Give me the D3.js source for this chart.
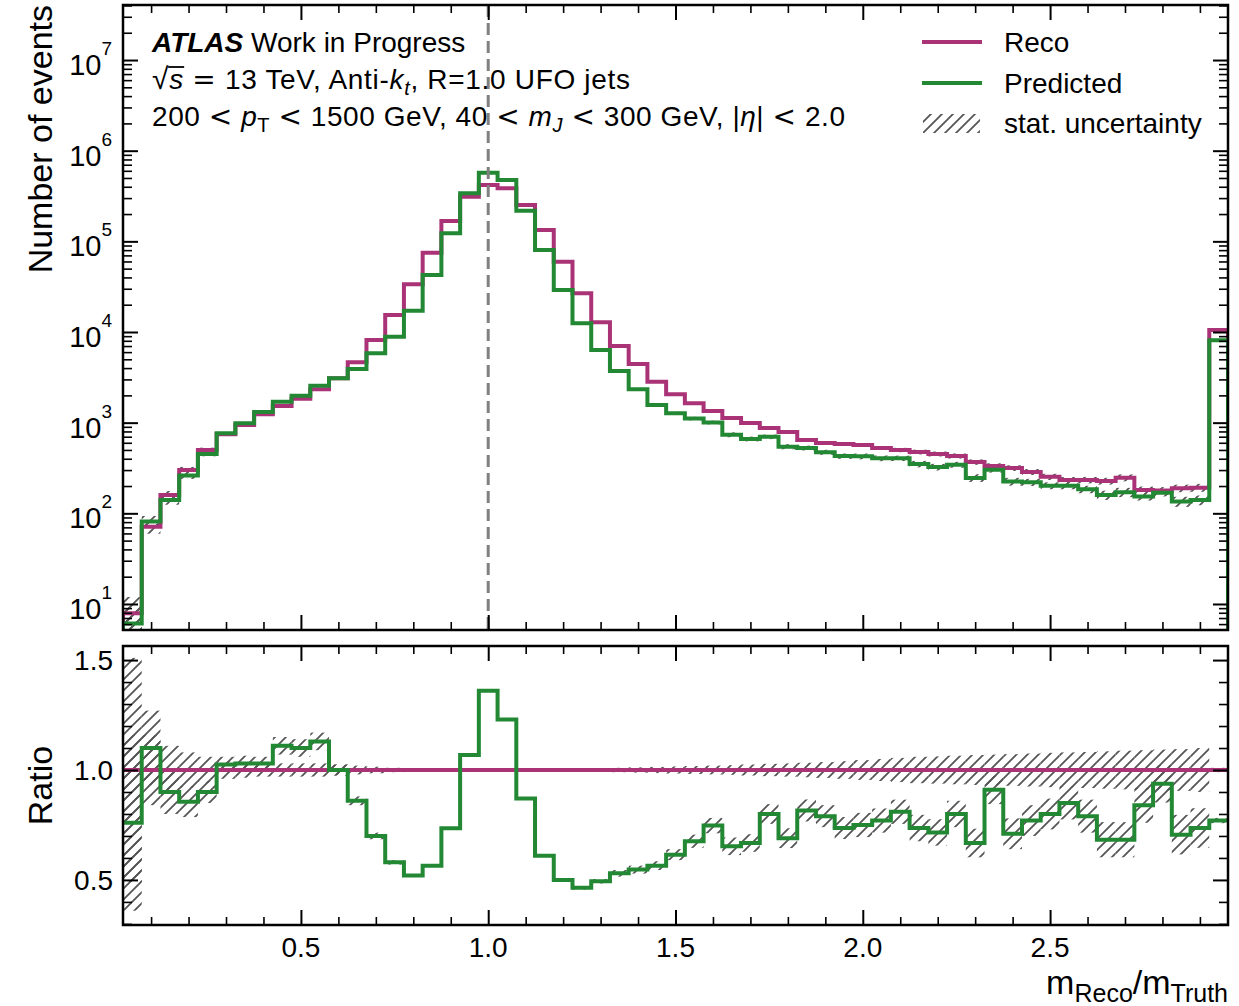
<!DOCTYPE html>
<html>
<head>
<meta charset="utf-8">
<script src="https://cdn.jsdelivr.net/npm/d3@7"></script>
<style>
body { margin: 0; background: #fff; }
svg text { font-family: "Liberation Sans", Arial, Helvetica, sans-serif; fill: #000; }
svg tspan.rel { font-family: "DejaVu Sans", sans-serif; }
</style>
</head>
<body>
<svg id="svg"></svg>
<script>
const W = 1239, H = 1006;

// bins: 0.025 .. 2.975, width 0.05 (last bin holds the overflow)
const binLo = 0.025, binW = 0.05;

const reco = [7.9, 71, 159, 301, 500, 743, 942, 1236, 1528, 1841,
  2334, 3090, 4634, 8166, 15400, 33600, 75000, 167500, 310000, 418000,
  384000, 252000, 133000, 59700, 26700, 12800, 7010, 4440, 2830, 2055,
  1640, 1345, 1127, 991, 873, 789, 644, 597, 582, 567,
  526, 500, 475, 452, 430, 368, 333, 316, 286, 253,
  233, 233, 227, 247, 181, 178, 189, 192, 10500];

const pred = [6.1, 81, 140, 261, 451, 762, 985, 1312, 1706, 1986,
  2558, 3090, 3908, 5824, 8890, 17200, 42500, 122500, 339000, 571000,
  475000, 218000, 80200, 29000, 12500, 6340, 3720, 2335, 1567, 1268,
  1109, 1005, 736, 662, 698, 544, 526, 472, 428, 425,
  405, 405, 350, 324, 344, 246, 303, 224, 220, 202,
  202, 184, 159, 171, 153, 169, 135, 140, 8100];

const ratioPred = [0.76, 1.10, 0.90, 0.856, 0.90, 1.025, 1.03, 1.03, 1.11, 1.10,
  1.13, 1.00, 0.86, 0.70, 0.58, 0.52, 0.565, 0.735, 1.068, 1.36,
  1.23, 0.87, 0.61, 0.50, 0.464, 0.494, 0.53, 0.547, 0.565, 0.615,
  0.676, 0.747, 0.653, 0.668, 0.80, 0.69, 0.816, 0.79, 0.736, 0.75,
  0.77, 0.81, 0.736, 0.716, 0.80, 0.668, 0.91, 0.71, 0.77, 0.80,
  0.85, 0.79, 0.683, 0.683, 0.84, 0.937, 0.706, 0.736, 0.77];

// stat. uncertainty half widths, in ratio units
const errReco = [0.51, 0.16, 0.11, 0.08, 0.06, 0.04, 0.035, 0.03, 0.03, 0.03,
  0.03, 0.025, 0.02, 0.015, 0.01, 0.005, 0.005, 0.005, 0.005, 0.005,
  0.005, 0.005, 0.005, 0.005, 0.005, 0.008, 0.01, 0.012, 0.014, 0.016,
  0.018, 0.02, 0.022, 0.025, 0.028, 0.03, 0.033, 0.036, 0.04, 0.045,
  0.05, 0.055, 0.06, 0.062, 0.065, 0.068, 0.07, 0.072, 0.075, 0.078,
  0.08, 0.082, 0.085, 0.088, 0.09, 0.093, 0.095, 0.1, 0.01];

const errPred = [0.40, 0.17, 0.10, 0.07, 0.05, 0.035, 0.035, 0.03, 0.04, 0.04,
  0.04, 0.025, 0.02, 0.015, 0.01, 0.005, 0.005, 0.005, 0.005, 0.005,
  0.005, 0.005, 0.005, 0.005, 0.008, 0.01, 0.015, 0.018, 0.02, 0.025,
  0.03, 0.035, 0.04, 0.04, 0.045, 0.045, 0.05, 0.05, 0.05, 0.055,
  0.055, 0.055, 0.06, 0.06, 0.06, 0.065, 0.065, 0.07, 0.07, 0.07,
  0.075, 0.075, 0.08, 0.08, 0.08, 0.085, 0.09, 0.09, 0.012];

const xMajor = [0.5, 1.0, 1.5, 2.0, 2.5];
const yTopMajorExp = [1, 2, 3, 4, 5, 6, 7];
const yRatioMajor = [0.5, 1.0, 1.5];

const colReco = "#aa3377", colPred = "#228833";

const edges = d3.range(reco.length + 1).map(i => binLo + i * binW);

const L = 123, R = 1228;
const T1 = 5, B1 = 630, T2 = 646, B2 = 925;

const svg = d3.select("#svg").attr("width", W).attr("height", H);
svg.append("rect").attr("width", W).attr("height", H).attr("fill", "#fff");

const x = d3.scaleLinear().domain([0.025, 2.975]).range([L, R]);
const yTop = d3.scaleLog().domain([Math.pow(10, 0.713), Math.pow(10, 7.607)]).range([B1, T1]);
const yRat = d3.scaleLinear().domain([0.295, 1.564]).range([B2, T2]);

const defs = svg.append("defs");
const pat = defs.append("pattern").attr("id", "hatch")
    .attr("patternUnits", "userSpaceOnUse").attr("width", 11).attr("height", 11);
pat.append("path").attr("d", "M-2,2L2,-2M0,11L11,0M9,13L13,9")
    .attr("stroke", "#555").attr("stroke-width", 1.8);
defs.append("clipPath").attr("id", "clipTop").append("rect")
    .attr("x", L).attr("y", T1).attr("width", R - L).attr("height", B1 - T1);
defs.append("clipPath").attr("id", "clipRat").append("rect")
    .attr("x", L).attr("y", T2).attr("width", R - L).attr("height", B2 - T2);

// ---------- top panel ----------
const gMain = svg.append("g").attr("clip-path", "url(#clipTop)");
const yMin = yTop.domain()[0];

function bands(g, lo, hi, ys) {
    g.append("g").selectAll("rect").data(reco.map((_, i) => i)).enter().append("rect")
        .attr("x", i => x(edges[i]))
        .attr("width", i => x(edges[i + 1]) - x(edges[i]))
        .attr("y", i => ys(hi(i)))
        .attr("height", i => Math.max(0, ys(lo(i)) - ys(hi(i))))
        .attr("fill", "url(#hatch)");
}

bands(gMain, i => Math.max(yMin, reco[i] * (1 - errReco[i])), i => reco[i] * (1 + errReco[i]), yTop);
bands(gMain, i => Math.max(yMin, pred[i] * (1 - errPred[i] / ratioPred[i])), i => pred[i] * (1 + errPred[i] / ratioPred[i]), yTop);

const stepTop = d3.line().x(d => x(d[0])).y(d => yTop(d[1])).curve(d3.curveStepAfter);
function histPts(vals) {
    const p = [[edges[0], yMin]];
    vals.forEach((v, i) => p.push([edges[i], v]));
    p.push([edges[vals.length], vals[vals.length - 1]]);
    p.push([edges[vals.length], yMin]);
    return p;
}
gMain.append("path").attr("d", stepTop(histPts(reco)))
    .attr("fill", "none").attr("stroke", colReco).attr("stroke-width", 4);
gMain.append("path").attr("d", stepTop(histPts(pred)))
    .attr("fill", "none").attr("stroke", colPred).attr("stroke-width", 4);

gMain.append("line").attr("x1", x(1)).attr("x2", x(1)).attr("y1", T1).attr("y2", B1)
    .attr("stroke", "#808080").attr("stroke-width", 3).attr("stroke-dasharray", "12,6");

// ---------- ratio panel ----------
const gRat = svg.append("g").attr("clip-path", "url(#clipRat)");
bands(gRat, i => 1 - errReco[i], i => 1 + errReco[i], yRat);
bands(gRat, i => ratioPred[i] - errPred[i], i => ratioPred[i] + errPred[i], yRat);

gRat.append("line").attr("x1", L).attr("x2", R).attr("y1", yRat(1)).attr("y2", yRat(1))
    .attr("stroke", colReco).attr("stroke-width", 4);
const stepRat = d3.line().x(d => x(d[0])).y(d => yRat(d[1])).curve(d3.curveStepAfter);
const rPts = ratioPred.map((v, i) => [edges[i], v]);
rPts.push([edges[ratioPred.length], ratioPred[ratioPred.length - 1]]);
gRat.append("path").attr("d", stepRat(rPts))
    .attr("fill", "none").attr("stroke", colPred).attr("stroke-width", 4);

// ---------- ticks ----------
function ticks(orient, scale, pos, values, size, width) {
    const gen = { bottom: d3.axisBottom, top: d3.axisTop, left: d3.axisLeft, right: d3.axisRight }[orient];
    const axis = gen(scale).tickValues(values).tickSizeInner(-size).tickSizeOuter(0).tickFormat("");
    const tr = (orient === "bottom" || orient === "top") ? `translate(0,${pos})` : `translate(${pos},0)`;
    const a = svg.append("g").attr("transform", tr).call(axis);
    a.select(".domain").remove();
    a.selectAll("line").attr("stroke", "#000").attr("stroke-width", width);
}
const xMinor = d3.range(1, 30).filter(i => i % 5 !== 0).map(i => i / 10);
const yTopMajor = yTopMajorExp.map(e => Math.pow(10, e));
const yTopMinor = [];
for (let e = 0; e <= 7; e++) for (let m = 2; m <= 9; m++) {
    const v = m * Math.pow(10, e);
    if (v > yTop.domain()[0] && v < yTop.domain()[1]) yTopMinor.push(v);
}
const yRatMinor = d3.range(3, 16).filter(i => i % 5 !== 0).map(i => i / 10);

[[B1, "bottom"], [T1, "top"], [B2, "bottom"], [T2, "top"]].forEach(([p, o]) => {
    ticks(o, x, p, xMajor, 15, 2);
    ticks(o, x, p, xMinor, 8, 1.6);
});
ticks("left", yTop, L, yTopMajor, 15, 2);
ticks("left", yTop, L, yTopMinor, 9, 1.6);
ticks("right", yTop, R, yTopMajor, 15, 2);
ticks("right", yTop, R, yTopMinor, 9, 1.6);
ticks("left", yRat, L, yRatioMajor, 15, 2);
ticks("left", yRat, L, yRatMinor, 9, 1.6);
ticks("right", yRat, R, yRatioMajor, 15, 2);
ticks("right", yRat, R, yRatMinor, 9, 1.6);

// frames
[[T1, B1], [T2, B2]].forEach(([a, b]) => {
    svg.append("rect").attr("x", L).attr("y", a).attr("width", R - L).attr("height", b - a)
        .attr("fill", "none").attr("stroke", "#000").attr("stroke-width", 2.5);
});

// ---------- tick labels ----------
svg.append("g").selectAll("text").data(xMajor).enter().append("text")
    .attr("x", d => x(d)).attr("y", 957).attr("text-anchor", "middle")
    .attr("font-size", 28).text(d3.format(".1f"));

svg.append("g").selectAll("text").data(yRatioMajor).enter().append("text")
    .attr("x", 113).attr("y", d => yRat(d) + 10).attr("text-anchor", "end")
    .attr("font-size", 28).text(d3.format(".1f"));

const yl = svg.append("g").selectAll("text").data(yTopMajorExp).enter().append("text")
    .attr("x", 112).attr("y", d => yTop(Math.pow(10, d)) + 15).attr("text-anchor", "end");
yl.append("tspan").attr("font-size", 29).text("10");
yl.append("tspan").attr("font-size", 19).attr("dy", -20).text(d => d);

// axis titles
svg.append("text").attr("transform", `translate(52,${T1}) rotate(-90)`)
    .attr("text-anchor", "end").attr("font-size", 34).text("Number of events");
svg.append("text").attr("transform", `translate(52,${(T2 + B2) / 2}) rotate(-90)`)
    .attr("text-anchor", "middle").attr("font-size", 34).text("Ratio");

const xl = svg.append("text").attr("x", R).attr("y", 994).attr("text-anchor", "end");
xl.append("tspan").attr("font-size", 34).text("m");
xl.append("tspan").attr("font-size", 25).attr("dy", 8).text("Reco");
xl.append("tspan").attr("font-size", 34).attr("dy", -8).text("/m");
xl.append("tspan").attr("font-size", 25).attr("dy", 8).text("Truth");

// ---------- annotation ----------
const ann = svg.append("g").attr("font-size", 28);
const t1 = ann.append("text").attr("x", 152).attr("y", 52);
t1.append("tspan").attr("font-weight", "bold").attr("font-style", "italic").text("ATLAS");
t1.append("tspan").text(" Work in Progress");

function rel(t, s) { t.append("tspan").attr("class", "rel").text(s); }

const t2 = ann.append("text").attr("x", 152).attr("y", 89)
    .attr("textLength", 478).attr("lengthAdjust", "spacing");
t2.append("tspan").attr("font-size", 30).text("\u221A");
t2.append("tspan").attr("font-style", "italic").text("s");
t2.append("tspan").text(" ");
rel(t2, "=");
t2.append("tspan").text(" 13 TeV, Anti-");
t2.append("tspan").attr("font-style", "italic").text("k");
t2.append("tspan").attr("font-style", "italic").attr("font-size", 20).attr("dy", 6).text("t");
t2.append("tspan").attr("dy", -6).text(", R=1.0 UFO jets");
const sBox = t2.node().getExtentOfChar(1);
ann.append("line").attr("x1", sBox.x - 1).attr("x2", sBox.x + sBox.width + 1)
    .attr("y1", 67).attr("y2", 67).attr("stroke", "#000").attr("stroke-width", 1.8);

const t3 = ann.append("text").attr("x", 152).attr("y", 126)
    .attr("textLength", 693).attr("lengthAdjust", "spacing");
t3.append("tspan").text("200 ");
rel(t3, "<");
t3.append("tspan").text(" ");
t3.append("tspan").attr("font-style", "italic").text("p");
t3.append("tspan").attr("font-size", 20).attr("dy", 6).text("T");
t3.append("tspan").attr("dy", -6).text(" ");
rel(t3, "<");
t3.append("tspan").text(" 1500 GeV, 40 ");
rel(t3, "<");
t3.append("tspan").text(" ");
t3.append("tspan").attr("font-style", "italic").text("m");
t3.append("tspan").attr("font-style", "italic").attr("font-size", 20).attr("dy", 6).text("J");
t3.append("tspan").attr("dy", -6).text(" ");
rel(t3, "<");
t3.append("tspan").text(" 300 GeV, |");
t3.append("tspan").attr("font-style", "italic").text("\u03B7");
t3.append("tspan").text("| ");
rel(t3, "<");
t3.append("tspan").text(" 2.0");

// ---------- legend ----------
const leg = svg.append("g").attr("font-size", 28);
leg.append("line").attr("x1", 922).attr("x2", 982).attr("y1", 42).attr("y2", 42)
    .attr("stroke", colReco).attr("stroke-width", 4);
leg.append("line").attr("x1", 922).attr("x2", 982).attr("y1", 83).attr("y2", 83)
    .attr("stroke", colPred).attr("stroke-width", 4);
leg.append("rect").attr("x", 923).attr("y", 114).attr("width", 57).attr("height", 19)
    .attr("fill", "url(#hatch)");
leg.append("text").attr("x", 1004).attr("y", 52).text("Reco");
leg.append("text").attr("x", 1004).attr("y", 93).text("Predicted");
leg.append("text").attr("x", 1004).attr("y", 133).text("stat. uncertainty");
</script>
</body>
</html>
